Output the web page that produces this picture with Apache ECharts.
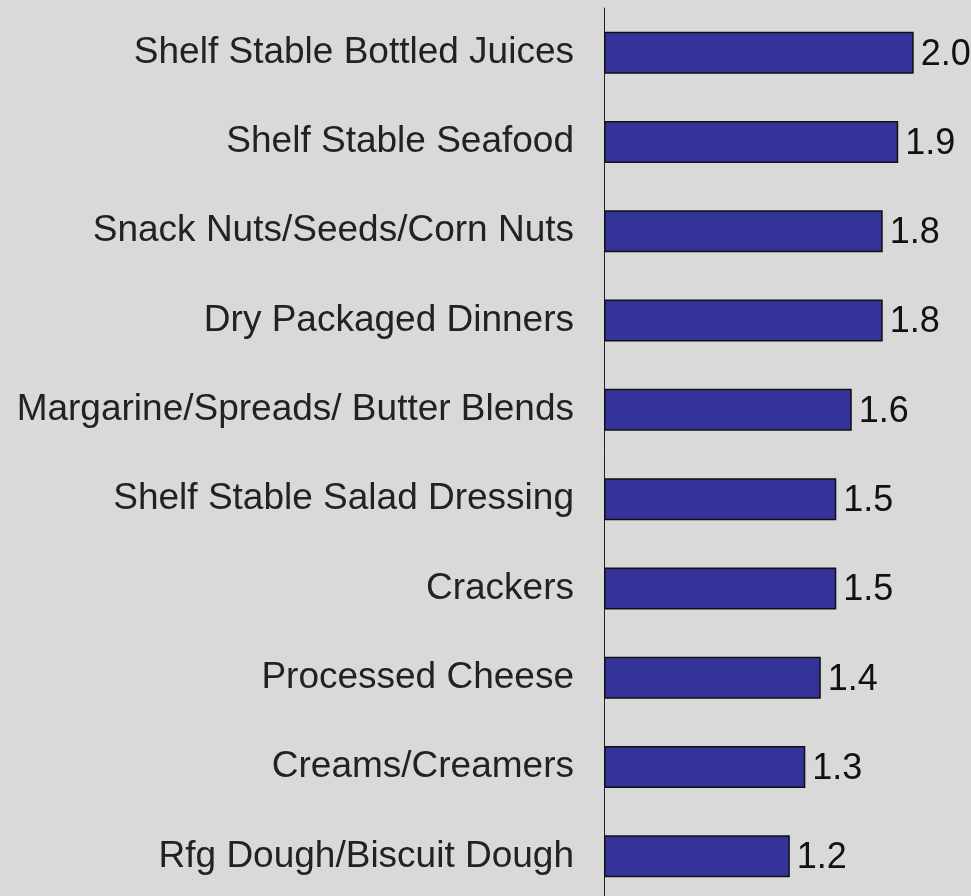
<!DOCTYPE html>
<html>
<head>
<meta charset="utf-8">
<style>
  html, body { margin: 0; padding: 0; background: #d9d9d9; }
  #chart { width: 971px; height: 896px; }
</style>
<script src="https://cdn.jsdelivr.net/npm/echarts@6/dist/echarts.min.js"></script>
</head>
<body>
<div id="chart"></div>
<script>
// Product categories, top to bottom
const categories = [
  'Shelf Stable Bottled Juices',
  'Shelf Stable Seafood',
  'Snack Nuts/Seeds/Corn Nuts',
  'Dry Packaged Dinners',
  'Margarine/Spreads/ Butter Blends',
  'Shelf Stable Salad Dressing',
  'Crackers',
  'Processed Cheese',
  'Creams/Creamers',
  'Rfg Dough/Biscuit Dough'
];

// Index values per category
const values = [2.0, 1.9, 1.8, 1.8, 1.6, 1.5, 1.5, 1.4, 1.3, 1.2];

const chart = echarts.init(document.getElementById('chart'));

chart.setOption({
  backgroundColor: '#d9d9d9',
  animation: false,
  grid: {
    left: 604,
    right: 0,
    top: 8,
    bottom: -5,
    containLabel: false,
    outerBoundsMode: 'none'
  },
  xAxis: {
    type: 'value',
    min: 0,
    max: 2.37,
    show: false
  },
  yAxis: {
    type: 'category',
    data: categories,
    inverse: true,
    axisLine: { show: true, lineStyle: { color: '#222', width: 1 } },
    axisTick: { show: false },
    axisLabel: {
      margin: 30,
      padding: [5, 0, 0, 0],
      fontFamily: 'Liberation Sans, Arial, sans-serif',
      fontSize: 37,
      color: '#222'
    }
  },
  series: [{
    type: 'bar',
    data: values,
    barWidth: 42,
    itemStyle: {
      color: '#333399',
      borderColor: '#111',
      borderWidth: 1.5
    },
    label: {
      show: true,
      position: 'right',
      distance: 7,
      offset: [0, 2],
      formatter: p => p.value.toFixed(1),
      fontFamily: 'Liberation Sans, Arial, sans-serif',
      fontSize: 36,
      color: '#111'
    }
  }]
});
</script>
</body>
</html>
